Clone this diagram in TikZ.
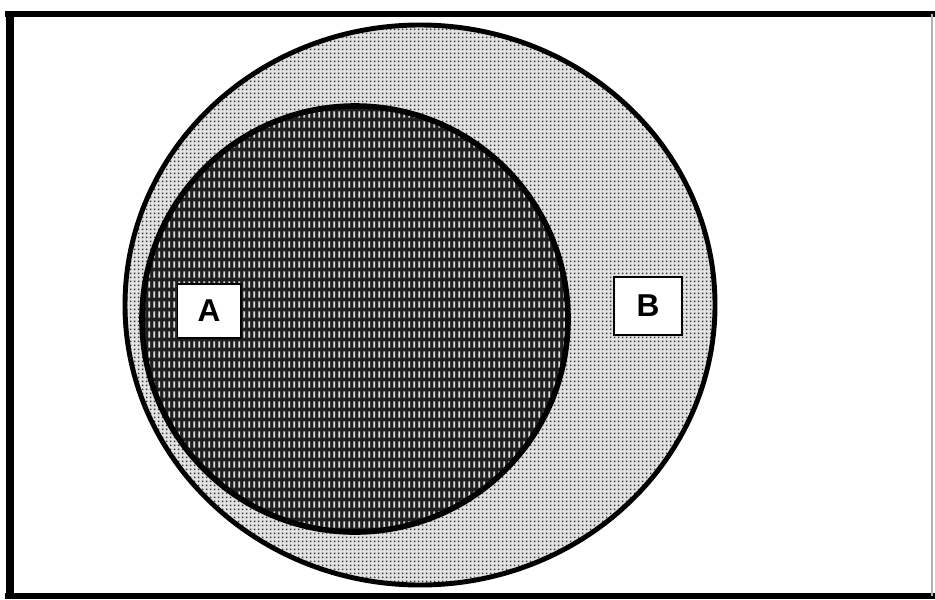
\documentclass[tikz,border=0pt]{standalone}
\usepackage{fontspec}
\newfontfamily\lblfont{Liberation Sans}
\usepackage{tikz}
\usetikzlibrary{patterns}

\pgfdeclarepatternformonly{vdashes}{\pgfqpoint{0pt}{0pt}}{\pgfqpoint{2.7pt}{5.7pt}}{\pgfqpoint{2.7pt}{5.7pt}}{
    \pgfpathrectangle{\pgfqpoint{0.8pt}{0.9pt}}{\pgfqpoint{1.1pt}{3.9pt}}
    \pgfusepath{fill}
}
\pgfdeclarepatternformonly{stipple}{\pgfqpoint{0pt}{0pt}}{\pgfqpoint{2.3pt}{2.3pt}}{\pgfqpoint{2.3pt}{2.3pt}}{
    \pgfpathrectangle{\pgfqpoint{0.55pt}{0.55pt}}{\pgfqpoint{1.05pt}{1.05pt}}
    \pgfusepath{fill}
}

\tikzset{
    setline/.style={line width=2.8pt, black},
    lbl/.style={draw, line width=1pt, fill=white, inner sep=0pt,
        font=\lblfont\bfseries\fontsize{18}{20}\selectfont}
}

\begin{document}
\begin{tikzpicture}[x=0.02cm, y=-0.02cm]
    \useasboundingbox (0,0) rectangle (935,599);
    \fill[white] (0,0) rectangle (935,599);

    \coordinate (O) at (420,305); % centre of B
    \coordinate (P) at (355,319); % centre of A

    % frame
    \draw[line width=3.4pt] (5,14) -- (935,14);
    \draw[line width=4.5pt] (10,12) -- (10,599);
    \draw[line width=3.2pt] (5,596) -- (935,596);
    \draw[line width=0.6pt, gray!60] (932,14) -- (932,596);

    % set B
    \fill[gray!22] (O) ellipse [x radius=295, y radius=280];
    \fill[pattern=stipple, pattern color=black!80] (O) ellipse [x radius=295, y radius=280];
    \draw[setline] (O) ellipse [x radius=295, y radius=280];

    % set A
    \fill[black!88] (P) circle (213);
    \fill[pattern=vdashes, pattern color=white!75!gray] (P) circle (213);
    \draw[setline, line width=3.2pt] (P) circle (213);

    \node[lbl, minimum width=36pt, minimum height=31pt] (labA) at (209,311) {A};
    \node[lbl, minimum width=39pt, minimum height=33pt] (labB) at (648,306) {B};
\end{tikzpicture}
\end{document}
